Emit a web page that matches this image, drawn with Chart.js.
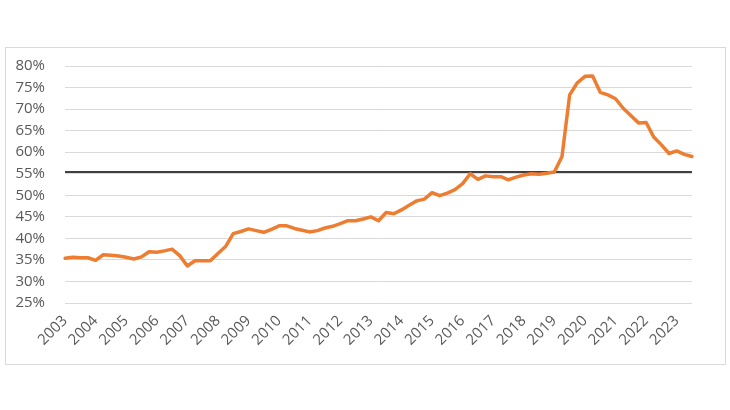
<!DOCTYPE html>
<html>
<head>
<meta charset="utf-8">
<script src="https://cdn.jsdelivr.net/npm/chart.js@4.4.1/dist/chart.umd.min.js"></script>
<style>
  html, body { margin: 0; padding: 0; background: #ffffff; }
  #frame { position: absolute; left: 5px; top: 47px; width: 719px; height: 316px; border: 1px solid #D9D9D9; }
  #c { position: absolute; left: 0; top: 0; }
</style>
</head>
<body>
<div id="frame"></div>
<canvas id="c" width="730" height="410"></canvas>
<script>
// Tick labels (years), quarterly categories 2003Q1 .. 2023Q3
const years = [2003,2004,2005,2006,2007,2008,2009,2010,2011,2012,2013,2014,2015,2016,2017,2018,2019,2020,2021,2022,2023];
const quarters = ['Q1','Q2','Q3','Q4'];
const pointCount = 83;

// Series values (%)
const ratio = [
  35.4, 35.6, 35.5, 35.5, 34.9, 36.2, 36.1, 35.9, 35.6, 35.2,
  35.7, 36.9, 36.8, 37.1, 37.5, 36.0, 33.6, 34.8, 34.8, 34.8,
  36.5, 38.1, 41.1, 41.6, 42.2, 41.8, 41.4, 42.1, 42.9, 42.9,
  42.3, 41.9, 41.5, 41.8, 42.4, 42.8, 43.4, 44.1, 44.1, 44.5,
  45.0, 44.1, 46.0, 45.7, 46.6, 47.7, 48.7, 49.1, 50.6, 49.9,
  50.5, 51.3, 52.7, 55.0, 53.7, 54.5, 54.3, 54.3, 53.6, 54.2,
  54.7, 55.0, 54.9, 55.1, 55.4, 59.0, 73.3, 76.1, 77.6, 77.7,
  73.9, 73.3, 72.4, 70.2, 68.5, 66.8, 66.9, 63.5, 61.7, 59.7,
  60.3, 59.5, 59.0
];
// Reference level (%)
const referenceLevel = 55.4;

const labels = [];
years.forEach(y => quarters.forEach(q => { if (labels.length < pointCount) labels.push(y + ' ' + q); }));
const referenceLine = labels.map(() => referenceLevel);

const FONT = { family: "'Open Sans', 'DejaVu Sans', sans-serif", size: 15 };

new Chart(document.getElementById('c'), {
  type: 'line',
  data: {
    labels: labels,
    datasets: [
      {
        data: ratio,
        borderColor: '#ED7D31',
        borderWidth: 3.5,
        pointRadius: 0,
        tension: 0,
        fill: false,
        borderJoinStyle: 'round',
        borderCapStyle: 'round'
      },
      {
        data: referenceLine,
        borderColor: '#000000',
        borderWidth: 1.6,
        pointRadius: 0,
        fill: false
      }
    ]
  },
  options: {
    responsive: false,
    animation: false,
    devicePixelRatio: 1,
    layout: { padding: { left: 0, right: 38, top: 66, bottom: 40 } },
    plugins: { legend: { display: false }, tooltip: { enabled: false } },
    scales: {
      x: {
        offset: false,
        grid: { display: false, drawTicks: false },
        border: { display: false },
        afterFit: s => { s.height = 67; },
        ticks: {
          autoSkip: false,
          maxRotation: 45,
          minRotation: 45,
          padding: 9,
          color: '#595959',
          font: FONT,
          callback: function(v, i) { return i % 4 === 0 ? String(years[i / 4]) : ''; }
        }
      },
      y: {
        min: 25,
        max: 80,
        afterFit: s => { s.width = 65; },
        grid: { color: '#D9D9D9', lineWidth: 1, drawTicks: false },
        border: { display: false },
        ticks: {
          stepSize: 5,
          padding: 20,
          color: '#595959',
          font: FONT,
          callback: v => v + '%'
        }
      }
    }
  }
});
</script>
</body>
</html>
